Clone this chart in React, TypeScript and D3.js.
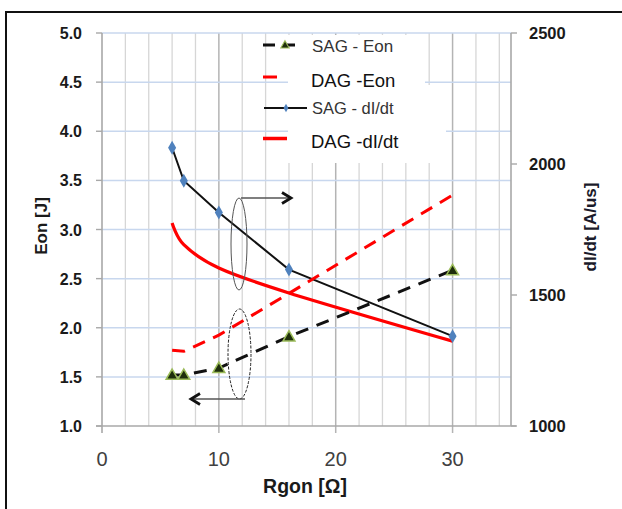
import React from "react";
import * as d3 from "d3";

const rgon = [6, 7, 10, 16, 30];
const sagEon = [1.52, 1.52, 1.59, 1.91, 2.585];
const dagEon = [1.77, 1.76, 1.925, 2.35, 3.35];
const sagDidt = [2062, 1936, 1815, 1597, 1343];
const dagDidt = [1775, 1692, 1603, 1508, 1324];

const eonTicks = [1.0, 1.5, 2.0, 2.5, 3.0, 3.5, 4.0, 4.5, 5.0];
const didtTicks = [1000, 1500, 2000, 2500];
const rgonTicks = [0, 10, 20, 30];
const rgonMinor = [2, 4, 6, 8, 12, 14, 16, 18, 22, 24, 26, 28, 32, 34];

const legendLabels = ["SAG - Eon", "DAG -Eon", "SAG - dI/dt", "DAG -dI/dt"];

const FONT = "'Liberation Sans', Arial, sans-serif";

export default function App() {
  const x = d3.scaleLinear().domain([0, 35]).range([102, 511]);
  const yL = d3.scaleLinear().domain([1, 5]).range([426, 33]);
  const yR = d3.scaleLinear().domain([1000, 2500]).range([426, 33]);

  const lineL = d3
    .line<number>()
    .x((_, i) => x(rgon[i]))
    .y((d) => yL(d));
  const lineR = d3
    .line<number>()
    .x((_, i) => x(rgon[i]))
    .y((d) => yR(d));
  const lineRSmooth = d3
    .line<number>()
    .x((_, i) => x(rgon[i]))
    .y((d) => yR(d))
    .curve(d3.curveCatmullRom.alpha(0.1));

  const tri = d3.symbol().type(d3.symbolTriangle).size(62)();
  const dia = d3.symbol().type(d3.symbolDiamond).size(56)();

  const left = x(0);
  const right = x(35);
  const top = yL(5);
  const bottom = yL(1);

  return (
    <svg
      width={622}
      height={509}
      style={{ position: "absolute", left: 0, top: 0, background: "#fff" }}
      fontFamily={FONT}
    >
      <rect x={0} y={0} width={622} height={509} fill="#fff" />
      {/* outer frame */}
      <rect x={6} y={12} width={650} height={530} fill="none" stroke="#111" strokeWidth={2} />

      {/* vertical minor grid */}
      {rgonMinor.map((v) => (
        <line key={"vm" + v} x1={x(v)} x2={x(v)} y1={top} y2={bottom} stroke="#d6d6d6" strokeWidth={1.3} />
      ))}
      {rgonTicks.slice(1).map((v) => (
        <line key={"vM" + v} x1={x(v)} x2={x(v)} y1={top} y2={bottom + 7} stroke="#b4b4b4" strokeWidth={1.5} />
      ))}
      {/* horizontal grid */}
      {eonTicks.slice(1).map((v) => (
        <line key={"h" + v} x1={left} x2={right} y1={yL(v)} y2={yL(v)} stroke="#c8d7ee" strokeWidth={1.5} />
      ))}

      {/* legend backdrop */}
      <rect x={288} y={35} width={137} height={128} fill="#fff" />
      <rect x={425} y={85} width={21} height={78} fill="#fff" />

      {/* axes */}
      <line x1={left} x2={left} y1={top} y2={bottom + 7} stroke="#a8a8a8" strokeWidth={1.6} />
      {eonTicks.map((v) => (
        <line key={"lt" + v} x1={left - 6} x2={left} y1={yL(v)} y2={yL(v)} stroke="#a8a8a8" strokeWidth={1.4} />
      ))}
      <line x1={right} x2={right} y1={top} y2={bottom} stroke="#a8a8a8" strokeWidth={1.6} />
      {didtTicks.map((v) => (
        <line key={"rt" + v} x1={right} x2={right + 6} y1={yR(v)} y2={yR(v)} stroke="#a8a8a8" strokeWidth={1.4} />
      ))}
      <line x1={left - 6} x2={right + 5} y1={bottom} y2={bottom} stroke="#a8a8a8" strokeWidth={1.6} />

      {/* tick labels */}
      {eonTicks.map((v) => (
        <text key={"ll" + v} x={82} y={yL(v) + 6} textAnchor="end" fontSize={16} fontWeight="bold" fill="#1a1a1a">
          {v.toFixed(1)}
        </text>
      ))}
      {didtTicks.map((v) => (
        <text key={"rl" + v} x={529} y={yR(v) + 6} textAnchor="start" fontSize={16.5} fontWeight="bold" fill="#1a1a1a">
          {v}
        </text>
      ))}
      {rgonTicks.map((v) => (
        <text key={"xl" + v} x={x(v)} y={466} textAnchor="middle" fontSize={20} fill="#404040">
          {v}
        </text>
      ))}

      {/* axis titles */}
      <text x={305} y={493} textAnchor="middle" fontSize={19.5} fontWeight="bold" fill="#1a1a1a">
        Rgon [Ω]
      </text>
      <text transform="translate(47,226) rotate(-90)" textAnchor="middle" fontSize={17} fontWeight="bold" fill="#1a1a1a">
        Eon [J]
      </text>
      <text transform="translate(596,227) rotate(-90)" textAnchor="middle" fontSize={17} fontWeight="bold" fill="#1a1a2a">
        dI/dt [A/us]
      </text>

      {/* series */}
      <path d={lineRSmooth(dagDidt) || ""} fill="none" stroke="#ff0000" strokeWidth={3.2} />
      <path d={lineR(sagDidt) || ""} fill="none" stroke="#111" strokeWidth={2} />
      <path d={lineL(dagEon) || ""} fill="none" stroke="#ff0000" strokeWidth={3} strokeDasharray="13,9" />
      <path d={lineL(sagEon) || ""} fill="none" stroke="#111" strokeWidth={3} strokeDasharray="13,9" />
      {sagDidt.map((v, i) => (
        <path key={"d" + i} d={dia || ""} transform={`translate(${x(rgon[i])},${yR(v)})`} fill="#4f81bd" />
      ))}
      {sagEon.map((v, i) => (
        <path
          key={"t" + i}
          d={tri || ""}
          transform={`translate(${x(rgon[i])},${yL(v) + 1})`}
          fill="#1e2e0c"
          stroke="#9bbb59"
          strokeWidth={1.5}
        />
      ))}

      {/* annotations */}
      <ellipse cx={239} cy={244} rx={8} ry={46} fill="none" stroke="#555" strokeWidth={1} />
      <line x1={241} x2={290} y1={198} y2={198} stroke="#555" strokeWidth={1.3} />
      <polyline points="282,192.5 291,198 282,203.5" fill="none" stroke="#111" strokeWidth={2.8} />
      <ellipse cx={239.5} cy={354} rx={11.5} ry={45} fill="none" stroke="#222" strokeWidth={1} strokeDasharray="3,1.5" />
      <line x1={245} x2={192} y1={399} y2={399} stroke="#555" strokeWidth={1.3} />
      <polyline points="200,393.5 191,399 200,404.5" fill="none" stroke="#111" strokeWidth={2.8} />

      {/* legend */}
      <line x1={263} x2={302} y1={45} y2={45} stroke="#111" strokeWidth={3} strokeDasharray="12,8" />
      <path d={tri || ""} transform="translate(285,45.5) scale(0.7)" fill="#1e2e0c" stroke="#9bbb59" strokeWidth={1.5} />
      <text x={312} y={51.5} fontSize={17} fill="#333">
        {legendLabels[0]}
      </text>
      <line x1={263} x2={277} y1={77} y2={77} stroke="#ff0000" strokeWidth={3} />
      <text x={311} y={86.5} fontSize={18.5} fill="#111">
        {legendLabels[1]}
      </text>
      <line x1={264} x2={307} y1={108} y2={108} stroke="#111" strokeWidth={2} />
      <path d={dia || ""} transform="translate(286,108) scale(0.6)" fill="#4f81bd" />
      <text x={312} y={114} fontSize={16.5} fill="#333">
        {legendLabels[2]}
      </text>
      <line x1={263} x2={287} y1={138.5} y2={138.5} stroke="#ff0000" strokeWidth={3.5} />
      <text x={311} y={148} fontSize={18.5} fill="#111">
        {legendLabels[3]}
      </text>
    </svg>
  );
}
